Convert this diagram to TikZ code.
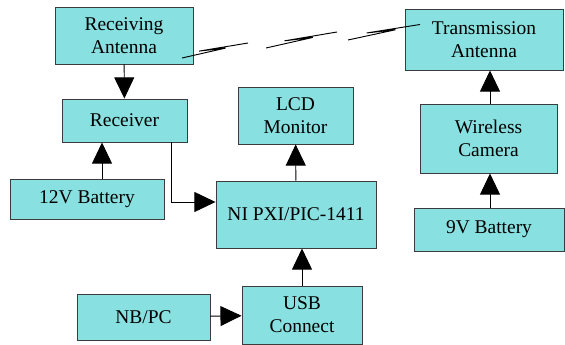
\documentclass[tikz,border=0pt]{standalone}
\usepackage{fontspec}
\setmainfont{Liberation Serif}
\usetikzlibrary{arrows.meta}
\usetikzlibrary{calc}
\definecolor{boxfill}{RGB}{136,224,224}
\definecolor{boxline}{RGB}{60,60,60}
\newcommand{\pxu}{0.03cm}
% one wireless link piece with its small zigzag
\newcommand{\linkseg}[2]{%
  \draw[link] (#1) -- ($(#1)!0.66!(#2)$) -- ($(#1)!0.26!(#2)+(0,-3)$) -- (#2);}

\begin{document}
\begin{tikzpicture}[x=0.03cm, y=-0.03cm]
		\tikzset{block/.style={shape = rectangle, draw = boxline, fill = boxfill, line width = 0.8pt,
				align = center, inner sep = 0pt,
				font = \fontsize{16.6pt}{19.6pt}\selectfont}}
		\tikzset{arr/.style={-{Triangle[length = 18pt, width = 17pt]}, line width = 0.8pt, black}}
		\tikzset{link/.style={line width = 0.8pt, black, line join = bevel}}
		\useasboundingbox (0,0) rectangle (565,345);
					%blocks
					\node[block, minimum width = 138*\pxu, minimum height = 57*\pxu] (rxant) at (124, 35.5) {Receiving\\Antenna};
					\node[block, minimum width = 158*\pxu, minimum height = 61*\pxu] (txant) at (484, 39.5) {Transmission\\Antenna};
					\node[block, minimum width = 125*\pxu, minimum height = 43*\pxu] (rx) at (124.5, 120.5) {Receiver};
					\node[block, minimum width = 115*\pxu, minimum height = 57*\pxu] (lcd) at (295.5, 115.5) {LCD\\Monitor};
					\node[block, minimum width = 154*\pxu, minimum height = 40*\pxu] (bat12) at (87, 199) {12V Battery};
					\node[block, minimum width = 160*\pxu, minimum height = 67*\pxu] (ni) at (296, 214.5) {NI PXI/PIC-1411};
					\node[block, minimum width = 133*\pxu, minimum height = 46*\pxu] (nbpc) at (143.5, 317) {NB/PC};
					\node[block, minimum width = 120*\pxu, minimum height = 58*\pxu] (usb) at (302, 315) {USB\\Connect};
					\node[block, minimum width = 137*\pxu, minimum height = 69*\pxu] (cam) at (488.5, 138.5) {Wireless\\Camera};
					\node[block, minimum width = 150*\pxu, minimum height = 43*\pxu] (bat9) at (489, 229.5) {9V Battery};
					%wireless link
					\coordinate (l1a) at (182, 58);
					\coordinate (l1b) at (248, 43);
					\coordinate (l2a) at (266, 48);
					\coordinate (l2b) at (337, 32);
					\coordinate (l3a) at (348, 40);
					\coordinate (l3b) at (420, 24.5);
					\linkseg{l1a}{l1b}
					\linkseg{l2a}{l2b}
					\linkseg{l3a}{l3b}
					%arrows
					\draw[arr] (rxant) -- (rx);
					\draw[arr] (bat12.north -| 102,0) -- (rx.south -| 102,0);
					\draw[arr] (rx.south -| 171,0) |- (ni.west |- 0,202);
					\draw[arr] (ni) -- (lcd);
					\draw[arr] (usb) -- (usb |- ni.south);
					\draw[arr] (nbpc) -- (usb);
					\draw[arr] (bat9.north -| 490,0) -- (cam.south -| 490,0);
					\draw[arr] (cam.north -| 490,0) -- (txant.south -| 490,0);
\end{tikzpicture}
\end{document}
